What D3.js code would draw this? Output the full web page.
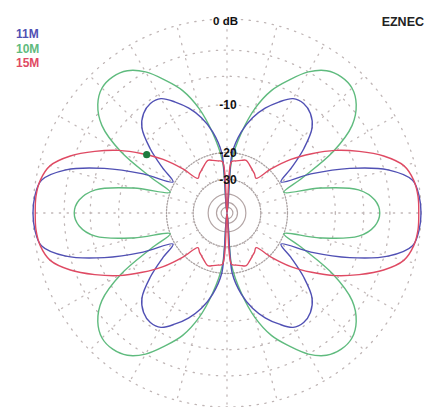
<!DOCTYPE html>
<html>
<head>
<meta charset="utf-8">
<script src="https://cdn.jsdelivr.net/npm/d3@7"></script>
<style>
  html, body { margin: 0; padding: 0; background: #ffffff; }
  svg { display: block; }
</style>
</head>
<body>
<svg id="chart" width="431" height="407"></svg>
<script>
// ---- data (angles in degrees, counter-clockwise from the right; gain in dB) ----
const angles = [0,5,10,15,20,25,30,35,40,45,50,55,60,65,70,75,80,85,90,
  95,100,105,110,115,120,125,130,135,140,145,150,155,160,165,170,175,
  180,185,190,195,200,205,210,215,220,225,230,235,240,245,250,255,260,265,270,
  275,280,285,290,295,300,305,310,315,320,325,330,335,340,345,350,355];

const series = ["11M", "10M", "15M"];

const gain11M = [0,-0.1,-0.5,-2.6,-6.8,-12.7,-19.5,-15.5,-11.3,-8.2,-6.9,-6.4,-6.6,-7.9,-9.5,-11.6,-14.7,-20,-99,
  -20,-14.7,-11.6,-9.5,-7.9,-6.6,-6.4,-6.9,-8.2,-11.3,-15.5,-19.5,-12.7,-6.8,-2.6,-0.5,-0.1,
  0,-0.1,-0.5,-2.6,-6.8,-12.7,-19.5,-15.5,-11.3,-8.2,-6.9,-6.4,-6.6,-7.9,-9.5,-11.6,-14.7,-20,-99,
  -20,-14.7,-11.6,-9.5,-7.9,-6.6,-6.4,-6.9,-8.2,-11.3,-15.5,-19.5,-12.7,-6.8,-2.6,-0.5,-0.1];

const gain10M = [-4.1,-4.6,-6.4,-12,-20,-14.5,-7.9,-4.1,-2.4,-1.6,-1.5,-1.9,-3.0,-4.8,-6.8,-10,-15.1,-22.5,-99,
  -22.5,-15.1,-10,-6.8,-4.8,-3.0,-1.9,-1.5,-1.6,-2.4,-4.1,-7.9,-14.5,-20,-12,-6.4,-4.6,
  -4.1,-4.6,-6.4,-12,-20,-14.5,-7.9,-4.1,-2.4,-1.6,-1.5,-1.9,-3.0,-4.8,-6.8,-10,-15.1,-22.5,-99,
  -22.5,-15.1,-10,-6.8,-4.8,-3.0,-1.9,-1.5,-1.6,-2.4,-4.1,-7.9,-14.5,-20,-12,-6.4,-4.6];

const gain15M = [-0.2,-0.2,-0.4,-1.0,-2.6,-4.9,-7.5,-10.8,-14.5,-19.5,-25,-24,-23.2,-22.2,-21.3,-21.8,-22.3,-22.8,-99,
  -22.8,-22.3,-21.8,-21.3,-22.2,-23.2,-24,-25,-19.5,-14.5,-10.8,-7.5,-4.9,-2.6,-1.0,-0.4,-0.2,
  -0.2,-0.2,-0.4,-1.0,-2.6,-4.9,-7.5,-10.8,-14.5,-19.5,-25,-24,-23.2,-22.2,-21.3,-21.8,-22.3,-22.8,-99,
  -22.8,-22.3,-21.8,-21.3,-22.2,-23.2,-24,-25,-19.5,-14.5,-10.8,-7.5,-4.9,-2.6,-1.0,-0.4,-0.2];

const ringLevels = [0, -3, -6, -10, -20, -30, -40, -50, -60];
const ringLabels = ["0 dB", "-10", "-20", "-30"];
const ringLabelLevels = [0, -10, -20, -30];
const spokeAngles = d3.range(0, 360, 15);
const cursorAngle = 144;   // marker on the 15M trace
const cursorGain = -11.5;

// ---- layout ----
const cx = 227, cy = 213, R = 194;
const colors = { "11M": "#5050b4", "10M": "#5fbb7e", "15M": "#df4a63" };

// ARRL log scale: radius shrinks by 0.89 for every 2 dB
const rScale = d3.scaleLog().base(0.89)
  .domain([R * Math.pow(0.89, 30), R])
  .range([-60, 0]);
const rad = db => rScale.invert(db);

const svg = d3.select("#chart");
const g = svg.append("g").attr("transform", `translate(${cx},${cy})`);

// rings
ringLevels.forEach(lv => {
  const inner = lv <= -40;
  const mid = lv === -20 || lv === -30;
  g.append("circle")
    .attr("r", rad(lv))
    .attr("fill", "none")
    .attr("stroke", inner ? "#b3a5a5" : (mid ? "#aaa1a1" : "#bfb5b5"))
    .attr("stroke-width", inner ? 1.2 : 1.3)
    .attr("stroke-dasharray", inner ? null : (mid ? "1.3,1.7" : "1.3,6.5"))
    .attr("stroke-linecap", "round");
});

// spokes
spokeAngles.forEach(a => {
  const t = a * Math.PI / 180;
  const r0 = rad(-30), r1 = R;
  g.append("line")
    .attr("x1", r0 * Math.cos(t)).attr("y1", -r0 * Math.sin(t))
    .attr("x2", r1 * Math.cos(t)).attr("y2", -r1 * Math.sin(t))
    .attr("stroke", "#c2b8b8")
    .attr("stroke-width", 1.3)
    .attr("stroke-dasharray", "1.3,6.5")
    .attr("stroke-linecap", "round");
});

// traces
const gains = { "11M": gain11M, "10M": gain10M, "15M": gain15M };
const line = d3.lineRadial()
  .angle(d => (90 - d[0]) * Math.PI / 180)
  .radius(d => rad(d[1]))
  .curve(d3.curveCatmullRomClosed.alpha(0.5));

["10M", "11M", "15M"].forEach(s => {
  const pts = angles.map((a, i) => [a, gains[s][i]]);
  g.append("path")
    .attr("d", line(pts))
    .attr("fill", "none")
    .attr("stroke", colors[s])
    .attr("stroke-width", 1.4)
    .attr("stroke-linejoin", "round");
});

// cursor marker
{
  const t = cursorAngle * Math.PI / 180, r = rad(cursorGain);
  g.append("circle")
    .attr("cx", r * Math.cos(t)).attr("cy", -r * Math.sin(t))
    .attr("r", 3.6).attr("fill", "#1f7a3e");
}

// ring labels
ringLabelLevels.forEach((lv, i) => {
  const y = -rad(lv);
  g.append("text")
    .attr("x", i === 0 ? -1.5 : 1)
    .attr("y", i === 0 ? y + 6 : y + 4.5)
    .attr("text-anchor", "middle")
    .attr("font-family", "Liberation Sans, Arial, sans-serif")
    .attr("font-weight", "bold")
    .attr("font-size", i === 0 ? 11.5 : 12)
    .attr("fill", "#111")
    .text(ringLabels[i]);
});

// title
svg.append("text")
  .attr("x", 424).attr("y", 26)
  .attr("text-anchor", "end")
  .attr("font-family", "Liberation Sans, Arial, sans-serif")
  .attr("font-weight", "bold")
  .attr("font-size", 12.5)
  .attr("fill", "#222")
  .text("EZNEC");

// legend
series.forEach((s, i) => {
  svg.append("text")
    .attr("x", 16).attr("y", 38 + i * 14.5)
    .attr("font-family", "Liberation Sans, Arial, sans-serif")
    .attr("font-weight", "bold")
    .attr("font-size", 12)
    .attr("fill", colors[s])
    .text(s);
});
</script>
</body>
</html>
